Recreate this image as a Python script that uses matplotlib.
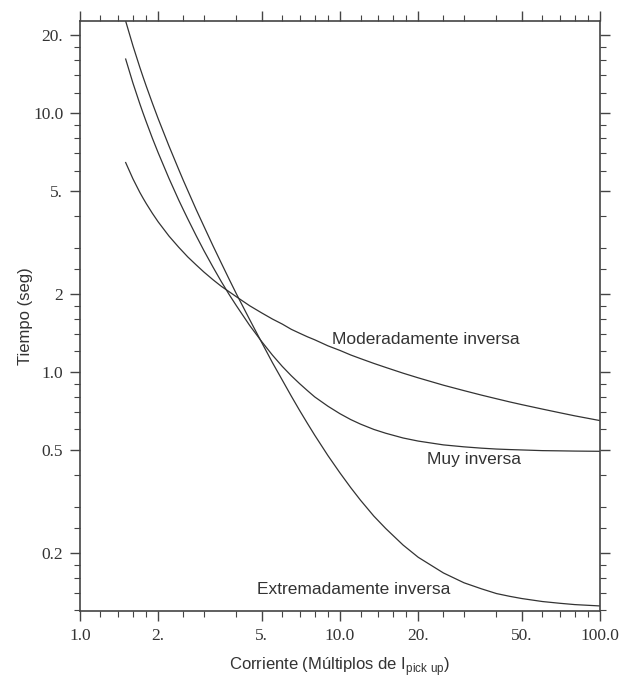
import matplotlib
matplotlib.use('Agg')
import matplotlib.pyplot as plt
from matplotlib.ticker import FixedLocator, FixedFormatter, NullFormatter

plt.rcParams['mathtext.fontset'] = 'custom'
plt.rcParams['mathtext.rm'] = 'Liberation Sans'

# multiples of pick-up current
corriente = [1.5, 1.6, 1.7, 1.75, 1.8, 1.9, 2, 2.2, 2.4, 2.5, 2.6, 2.8, 3,
             3.25, 3.5, 3.75, 4, 4.5, 5, 5.5, 6, 6.5, 7, 7.5, 8, 9, 10, 11,
             12, 13.5, 15, 17.5, 20, 25, 30, 35, 40, 45, 50, 60, 70, 80, 100]

# operating times (s)
t_moderada = [6.44, 5.57, 4.94, 4.69, 4.47, 4.10, 3.80, 3.35, 3.03, 2.90,
              2.78, 2.59, 2.43, 2.27, 2.14, 2.04, 1.95, 1.80, 1.69, 1.60,
              1.53, 1.46, 1.41, 1.366, 1.33, 1.26, 1.21, 1.162, 1.125, 1.078,
              1.04, 0.988, 0.948, 0.888, 0.846, 0.813, 0.787, 0.765, 0.747,
              0.718, 0.695, 0.676, 0.648]
t_muy = [16.18, 13.06, 10.87, 10.0, 9.25, 8.00, 7.03, 5.60, 4.61, 4.23,
         3.90, 3.36, 2.94, 2.54, 2.23, 1.99, 1.80, 1.51, 1.31, 1.161, 1.05,
         0.966, 0.90, 0.846, 0.80, 0.736, 0.689, 0.654, 0.628, 0.599, 0.579,
         0.555, 0.540, 0.522, 0.513, 0.507, 0.503, 0.5007, 0.499, 0.496,
         0.495, 0.494, 0.493]
t_extrema = [22.68, 18.20, 15.04, 13.79, 12.71, 10.93, 9.52, 7.47, 6.05,
             5.49, 5.02, 4.24, 3.65, 3.07, 2.63, 2.28, 2.00, 1.59, 1.30,
             1.086, 0.93, 0.806, 0.709, 0.632, 0.569, 0.474, 0.407, 0.357,
             0.319, 0.277, 0.248, 0.214, 0.192, 0.167, 0.153, 0.145, 0.139,
             0.1356, 0.133, 0.1295, 0.1275, 0.126, 0.1245]

x_ticks = [1, 2, 5, 10, 20, 50, 100]
x_labels = ['1.0', '2.', '5.', '10.0', '20.', '50.', '100.0']
y_ticks = [0.2, 0.5, 1, 2, 5, 10, 20]
y_labels = ['0.2', '0.5', '1.0', '2', '5.', '10.0', '20.']

x_minor = [1.2, 1.4, 1.6, 1.8, 2.5, 3, 4, 6, 7, 8, 9, 12, 14, 16, 18, 25, 30,
           40, 60, 70, 80, 90]
y_minor = [0.12, 0.14, 0.16, 0.18, 0.25, 0.3, 0.4, 0.6, 0.7, 0.8, 0.9, 1.2,
           1.4, 1.6, 1.8, 2.5, 3, 4, 6, 7, 8, 9, 12, 14, 16, 18]

fig = plt.figure(figsize=(6.24, 6.84), dpi=100)
ax = fig.add_axes([0.128, 0.1067, 0.8335, 0.8626])

col = '#333333'
for t in (t_moderada, t_muy, t_extrema):
    ax.plot(corriente, t, color=col, lw=0.9)

ax.set_xscale('log')
ax.set_yscale('log')
ax.set_xlim(1, 100)
ax.set_ylim(0.119, 22.7)

ax.xaxis.set_major_locator(FixedLocator(x_ticks))
ax.xaxis.set_major_formatter(FixedFormatter(x_labels))
ax.xaxis.set_minor_locator(FixedLocator(x_minor))
ax.xaxis.set_minor_formatter(NullFormatter())
ax.yaxis.set_major_locator(FixedLocator(y_ticks))
ax.yaxis.set_major_formatter(FixedFormatter(y_labels))
ax.yaxis.set_minor_locator(FixedLocator(y_minor))
ax.yaxis.set_minor_formatter(NullFormatter())

ax.tick_params(which='both', direction='out', top=True, right=True, colors='#444444')
ax.tick_params(which='major', length=7, width=1.0, pad=5, labelsize=12.5,
               labelcolor='#333333')
ax.tick_params(which='minor', length=4, width=0.8)
for lab in ax.get_xticklabels() + ax.get_yticklabels():
    lab.set_fontfamily('Liberation Serif')

for s in ax.spines.values():
    s.set_color('#444444')
    s.set_linewidth(1.2)

sans = 'Liberation Sans'
ax.set_ylabel('Tiempo (seg)', fontsize=12, family=sans, color='#333333', labelpad=0)
ax.set_xlabel(r'Corriente (Múltiplos de I$_{\mathrm{pick\ up}}$)', fontsize=12,
              family=sans, color='#333333', labelpad=8)

ax.text(9.3, 1.33, 'Moderadamente inversa', fontsize=12.5, family=sans,
        color='#333333', ha='left', va='center')
ax.text(21.6, 0.457, 'Muy inversa', fontsize=12.5, family=sans,
        color='#333333', ha='left', va='center')
ax.text(4.8, 0.144, 'Extremadamente inversa', fontsize=12.5, family=sans,
        color='#333333', ha='left', va='center')

fig.savefig('out.png', dpi=100)
